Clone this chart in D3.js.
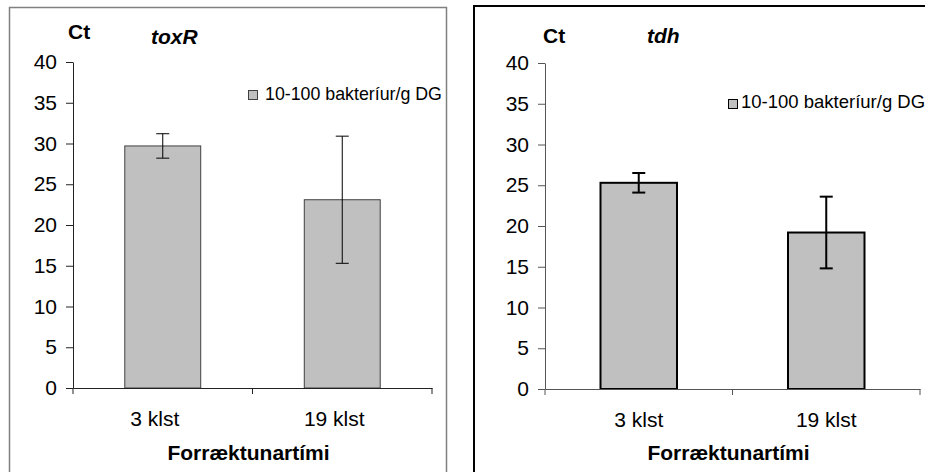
<!DOCTYPE html>
<html>
<head>
<meta charset="utf-8">
<script src="https://cdn.jsdelivr.net/npm/d3@7/dist/d3.min.js"></script>
<style>
  html, body { margin: 0; padding: 0; background: #fff; }
  svg { display: block; font-family: Arial, "Liberation Sans", sans-serif; }
</style>
</head>
<body>
<svg id="chart" width="925" height="472"></svg>
<script>
// ---- data ----
const categories = ["3 klst", "19 klst"];
const toxRValues = [29.7, 23.1];
const toxRErrors = [1.5, 7.8];
const tdhValues = [25.3, 19.2];
const tdhErrors = [1.2, 4.4];
const yTicks = [0, 5, 10, 15, 20, 25, 30, 35, 40];
const seriesName = "10-100 bakteríur/g DG";
const yLabel = "Ct";
const xTitle = "Forræktunartími";
const geneNames = ["toxR", "tdh"];

const FONT = "Arial, 'Liberation Sans', sans-serif";
const svg = d3.select("#chart");

const panels = [
  { gene: geneNames[0], values: toxRValues, errors: toxRErrors,
    frame: {x: 9.5, y: 7.5, w: 437, h: 480, stroke: "#808080", sw: 1.5},
    x0: 73, x1: 432, yTop: 62, yBot: 388, pad: 0.577,
    barStroke: "#404040", barSW: 1, errSW: 1, axisColor: "#222",
    ct: {x: 68, y: 39}, gt: {x: 151, y: 44},
    leg: {x: 248, y: 90, tx: 265, ty: 100, fs: 17.8},
    catDx: -8 },
  { gene: geneNames[1], values: tdhValues, errors: tdhErrors,
    frame: {x: 474, y: 6, w: 470, h: 480, stroke: "#000", sw: 2},
    x0: 545, x1: 920, yTop: 63, yBot: 389, pad: 0.592,
    barStroke: "#000", barSW: 2, errSW: 2, axisColor: "#555",
    ct: {x: 543, y: 43}, gt: {x: 647, y: 43},
    leg: {x: 728, y: 99, tx: 741, ty: 108, fs: 18.5},
    catDx: 0 }
];

panels.forEach(p => {
  const g = svg.append("g");
  g.append("rect")
    .attr("x", p.frame.x).attr("y", p.frame.y)
    .attr("width", p.frame.w).attr("height", p.frame.h)
    .attr("fill", "#fff").attr("stroke", p.frame.stroke).attr("stroke-width", p.frame.sw);

  const y = d3.scaleLinear().domain([0, 40]).range([p.yBot, p.yTop]);
  const x = d3.scaleBand().domain(categories).range([p.x0, p.x1])
    .paddingInner(p.pad).paddingOuter(p.pad / 2);

  // bars
  g.selectAll("rect.bar").data(categories).enter().append("rect")
    .attr("class", "bar")
    .attr("x", d => x(d))
    .attr("width", x.bandwidth())
    .attr("y", (d, i) => y(p.values[i]))
    .attr("height", (d, i) => y(0) - y(p.values[i]))
    .attr("fill", "#c0c0c0")
    .attr("stroke", p.barStroke)
    .attr("stroke-width", p.barSW);

  // error bars
  const cap = 6.5;
  categories.forEach((c, i) => {
    const cx = x(c) + x.bandwidth() / 2;
    const hi = y(p.values[i] + p.errors[i]);
    const lo = y(p.values[i] - p.errors[i]);
    const eg = g.append("g").attr("stroke", "#000").attr("stroke-width", p.errSW);
    eg.append("line").attr("x1", cx).attr("x2", cx).attr("y1", hi).attr("y2", lo);
    eg.append("line").attr("x1", cx - cap).attr("x2", cx + cap).attr("y1", hi).attr("y2", hi);
    eg.append("line").attr("x1", cx - cap).attr("x2", cx + cap).attr("y1", lo).attr("y2", lo);
  });

  // y axis
  const yAxis = d3.axisLeft(y).tickValues(yTicks).tickSize(7).tickPadding(9).tickSizeOuter(0);
  const ya = g.append("g").attr("transform", `translate(${p.x0},0)`).call(yAxis);
  ya.attr("font-size", null).attr("font-family", null);
  ya.select(".domain").attr("stroke", p.axisColor);
  ya.selectAll(".tick line").attr("stroke", p.axisColor);
  ya.selectAll(".tick text").attr("fill", "#000")
    .style("font-size", "21px").style("font-family", FONT);

  // x axis
  const xAxis = d3.axisBottom(x).tickSize(0).tickPadding(23).tickSizeOuter(0);
  const xa = g.append("g").attr("transform", `translate(0,${p.yBot})`).call(xAxis);
  xa.attr("font-size", null).attr("font-family", null);
  xa.select(".domain").attr("stroke", p.axisColor);
  xa.selectAll(".tick text").attr("fill", "#000").attr("dx", p.catDx)
    .style("font-size", "21px").style("font-family", FONT);
  // boundary ticks between categories
  const bounds = [p.x0, (p.x0 + p.x1) / 2, p.x1];
  xa.selectAll("line.bnd").data(bounds).enter().append("line")
    .attr("class", "bnd")
    .attr("x1", d => d).attr("x2", d => d).attr("y1", 0).attr("y2", 6)
    .attr("stroke", p.axisColor);

  // x title
  g.append("text")
    .attr("x", (p.x0 + p.x1) / 2 - 4).attr("y", 460)
    .attr("text-anchor", "middle")
    .style("font-size", "21px").style("font-weight", "bold")
    .text(xTitle);

  // Ct label
  g.append("text").attr("x", p.ct.x).attr("y", p.ct.y)
    .style("font-size", "21px").style("font-weight", "bold").text(yLabel);
  // gene title
  g.append("text").attr("x", p.gt.x).attr("y", p.gt.y)
    .style("font-size", "21px").style("font-weight", "bold").style("font-style", "italic")
    .text(p.gene);

  // legend
  g.append("rect").attr("x", p.leg.x + 0.5).attr("y", p.leg.y + 0.5)
    .attr("width", 9).attr("height", 9)
    .attr("fill", "#c0c0c0").attr("stroke", p.barStroke).attr("stroke-width", 1);
  g.append("text").attr("x", p.leg.tx).attr("y", p.leg.ty)
    .style("font-size", p.leg.fs + "px").attr("fill", "#000").text(seriesName);
});
</script>
</body>
</html>
